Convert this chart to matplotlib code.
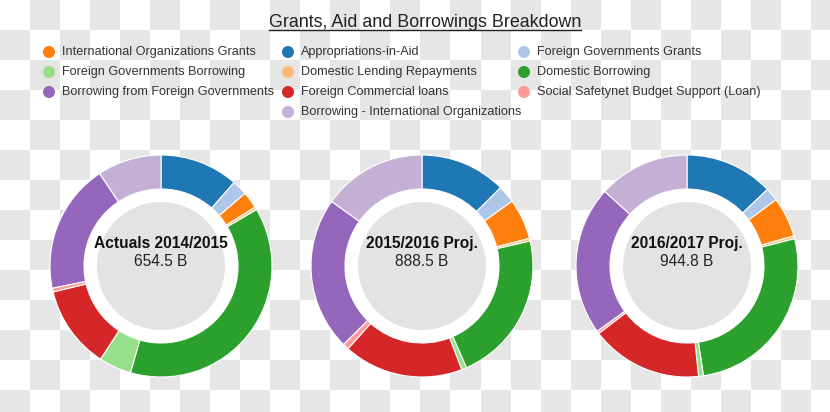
import matplotlib
matplotlib.use("Agg")
import matplotlib.pyplot as plt
import numpy as np
from matplotlib.patches import Circle
from matplotlib.lines import Line2D

plt.rcParams['font.family'] = ['Liberation Sans', 'DejaVu Sans']

# ---------------- data ----------------
title = "Grants, Aid and Borrowings Breakdown"
categories = [
    "Appropriations-in-Aid",
    "Foreign Governments Grants",
    "International Organizations Grants",
    "Domestic Lending Repayments",
    "Domestic Borrowing",
    "Foreign Governments Borrowing",
    "Foreign Commercial loans",
    "Social Safetynet Budget Support (Loan)",
    "Borrowing from Foreign Governments",
    "Borrowing - International Organizations",
]
colors = ["#1f77b4", "#aec7e8", "#ff7f0e", "#ffbb78", "#2ca02c",
          "#98df8a", "#d62728", "#ff9896", "#9467bd", "#c5b0d5"]

periods = ["Actuals 2014/2015", "2015/2016 Proj.", "2016/2017 Proj."]
totals = ["654.5 B", "888.5 B", "944.8 B"]
values_2014 = [74.9, 14.5, 16.0, 2.7, 248.2, 30.9, 79.1, 3.6, 123.6, 61.0]
values_2015 = [111.3, 22.7, 52.6, 3.5, 196.0, 6.4, 155.0, 7.9, 198.7, 134.5]
values_2016 = [121.8, 18.1, 55.1, 3.9, 251.2, 6.6, 153.8, 3.7, 205.2, 125.4]
series = [values_2014, values_2015, values_2016]

legend_order = [
    ["International Organizations Grants", "Foreign Governments Borrowing",
     "Borrowing from Foreign Governments"],
    ["Appropriations-in-Aid", "Domestic Lending Repayments",
     "Foreign Commercial loans", "Borrowing - International Organizations"],
    ["Foreign Governments Grants", "Domestic Borrowing",
     "Social Safetynet Budget Support (Loan)"],
]

# ---------------- layout ----------------
W, H = 830, 412
fig = plt.figure(figsize=(W / 100, H / 100), dpi=100)
ax = fig.add_axes([0, 0, 1, 1])


def Y(y):  # pixel-from-top -> data y
    return H - y


# transparent-style checkerboard background
cell = 30
nr, nc = int(np.ceil(H / cell)), int(np.ceil(W / cell))
board = (np.add.outer(np.arange(nr), np.arange(nc)) % 2).astype(float)
ax.imshow(board, cmap=matplotlib.colors.ListedColormap(["#ffffff", "#e6e6e6"]),
          extent=(0, nc * cell, H - nr * cell, H), origin="upper",
          interpolation="nearest", zorder=0)

centers_x = [161, 422, 687]
cy = 266
r_out, width, r_grey = 111, 34, 64

for cx, vals, label, tot in zip(centers_x, series, periods, totals):
    ax.add_patch(Circle((cx, Y(cy)), r_out - width, facecolor="white",
                        edgecolor="none", zorder=1))
    ax.add_patch(Circle((cx, Y(cy)), r_grey, facecolor="#e3e3e3",
                        edgecolor="none", zorder=2))
    wedges, _ = ax.pie(vals, colors=colors, center=(cx, Y(cy)), radius=r_out,
                       startangle=90, counterclock=False, normalize=True,
                       wedgeprops=dict(width=width, edgecolor="white",
                                       linewidth=0.8))
    for w in wedges:
        w.set_zorder(3)
    ax.text(cx, Y(cy - 23), label, ha="center", va="center", fontsize=11.2,
            fontweight="bold", color="#111111", zorder=4)
    ax.text(cx, Y(cy - 4), tot, ha="center", va="center", fontsize=11.2,
            color="#222222", zorder=4)

# legend (manual grid)
col_x = [49, 288, 524]
row_y0, row_dy = 52, 20
for ci, col in enumerate(legend_order):
    for ri, name in enumerate(col):
        c = colors[categories.index(name)]
        ax.scatter([col_x[ci]], [Y(row_y0 + ri * row_dy)], s=75, color=c,
                   edgecolor="none", zorder=4)
        ax.text(col_x[ci] + 13, Y(row_y0 + ri * row_dy), name, ha="left",
                va="center", fontsize=9.1, color="#333333", zorder=4)

# title with underline
t = ax.text(425, Y(22), title, ha="center", va="center", fontsize=12.9,
            color="#222222", zorder=4)

ax.set_xlim(0, W)
ax.set_ylim(0, H)
ax.set_aspect("auto")
ax.axis("off")

fig.canvas.draw()
bb = t.get_window_extent(renderer=fig.canvas.get_renderer())
inv = ax.transData.inverted()
(x0, y0), (x1, _) = inv.transform([(bb.x0, bb.y0), (bb.x1, bb.y0)])
ax.add_line(Line2D([x0, x1], [y0 + 1, y0 + 1], color="#222222", linewidth=1.0,
                   zorder=4))

fig.savefig("out.png", dpi=100)
